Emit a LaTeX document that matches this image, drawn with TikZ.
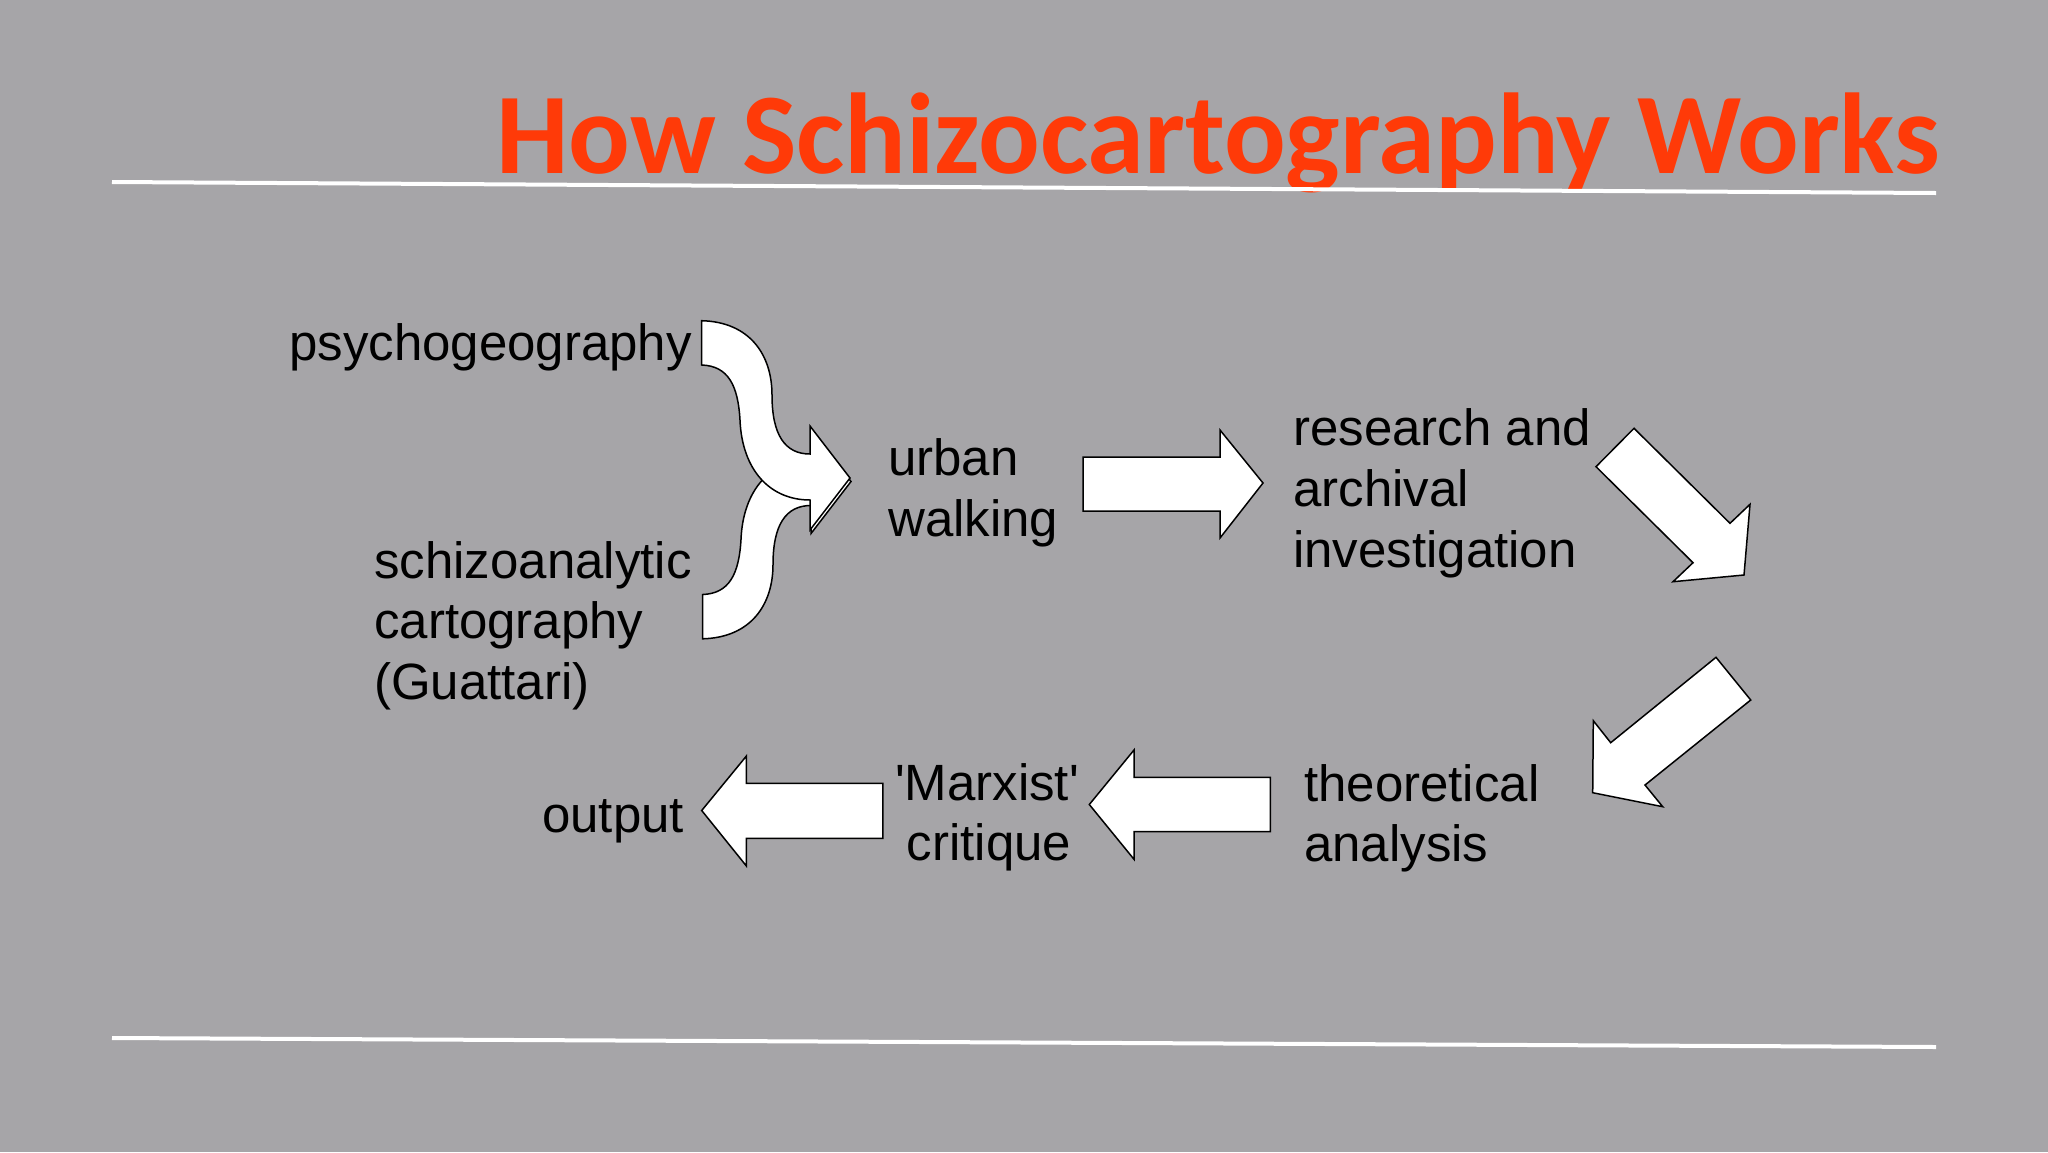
\documentclass[tikz,border=0pt]{standalone}
\usepackage{fontspec}
\setmainfont{Liberation Sans}
\newfontfamily\titlefont{Carlito}
\definecolor{bg}{RGB}{166,165,168}
\definecolor{titlered}{RGB}{255,58,8}
\begin{document}
\begin{tikzpicture}[x=1pt,y=-1pt,
  lbl/.style={font=\fontsize{51}{60}\selectfont, inner sep=0pt, anchor=base west, text=black},
  lblc/.style={lbl, anchor=base},
  blockarrow/.style={fill=white, draw=black, line width=1.5pt, line join=miter},
  rule/.style={draw=white, line width=4pt}]
\fill[bg] (0,0) rectangle (2048,1152);
\useasboundingbox (0,0) rectangle (2048,1152);

% title and rules
\node[anchor=base west, inner sep=0pt, text=titlered,
      font=\titlefont\bfseries\fontsize{115}{130}\selectfont] (title) at (496,173) {How Schizocartography Works};
\coordinate (tl) at (112,182);
\coordinate (tr) at (1936,193);
\draw[rule] (tl) -- (tr);
\coordinate (bl) at (112,1038);
\coordinate (br) at (1936,1047);
\draw[rule] (bl) -- (br);

% labels
\node[lbl] (psy) at (289,360) {psychogeography};
\node[lbl] (schiz1) at (374,578) {schizoanalytic};
\node[lbl] (schiz2) at (374,638) {cartography};
\node[lbl] (schiz3) at (374,699) {(Guattari)};
\node[lbl] (urb1) at (888,475) {urban};
\node[lbl] (urb2) at (888,536) {walking};
\node[lbl] (res1) at (1293,445) {research and};
\node[lbl] (res2) at (1293,506) {archival};
\node[lbl] (res3) at (1293,567) {investigation};
\node[lbl] (theo1) at (1304,801) {theoretical};
\node[lbl] (theo2) at (1304,861) {analysis};
\node[lblc] (marx1) at (987,800) {\textquotesingle Marxist\textquotesingle};
\node[lblc] (marx2) at (989,860) {critique};
\node[lbl] (out) at (542,832) {output};

% curved arrows (lower first, then upper)
\draw[blockarrow] (702.7,638.8) .. controls (751,637.5) and (773,604.5) .. (773,564.5)
  .. controls (773,524.5) and (786,505.5) .. (811,505.5)
  -- (811,533.5) -- (851,481.5) -- (811,429.5) -- (811,459.5)
  .. controls (771,459.5) and (743,489.5) .. (741,539.5)
  .. controls (739,574.5) and (729,593.5) .. (702.7,594.5) -- cycle;
\draw[blockarrow] (701.7,320.7) .. controls (750,322) and (772,355) .. (772,395)
  .. controls (772,435) and (785,454) .. (810,454)
  -- (810,426) -- (850,478) -- (810,530) -- (810,500)
  .. controls (770,500) and (742,470) .. (740,420)
  .. controls (738,385) and (728,366) .. (701.7,365) -- cycle;

% right arrow
\draw[blockarrow] (1083,457) -- (1220,457) -- (1220,430) -- (1263,483) -- (1220,538) -- (1220,511) -- (1083,511) -- cycle;

% diagonal arrow down-right
\draw[blockarrow] (1634,428.3) -- (1730,523.3) -- (1750,504.3) -- (1744,575) -- (1673,581.7) -- (1693,562.7) -- (1596,466.7) -- cycle;

% diagonal arrow down-left
\draw[blockarrow] (1716,657.3) -- (1750.7,700) -- (1645,785) -- (1662.7,806.7) -- (1592.7,792.7) -- (1593.3,720.7) -- (1610.7,742.7) -- cycle;

% left arrows
\draw[blockarrow] (1270.4,777.3) -- (1134,777.3) -- (1134,750) -- (1089.3,804.5) -- (1134,859.3) -- (1134,831.7) -- (1270.4,831.7) -- cycle;
\draw[blockarrow] (882.8,783.3) -- (746.4,783.3) -- (746.4,756) -- (701.7,810.5) -- (746.4,866) -- (746.4,838.3) -- (882.8,838.3) -- cycle;
\end{tikzpicture}
\end{document}
